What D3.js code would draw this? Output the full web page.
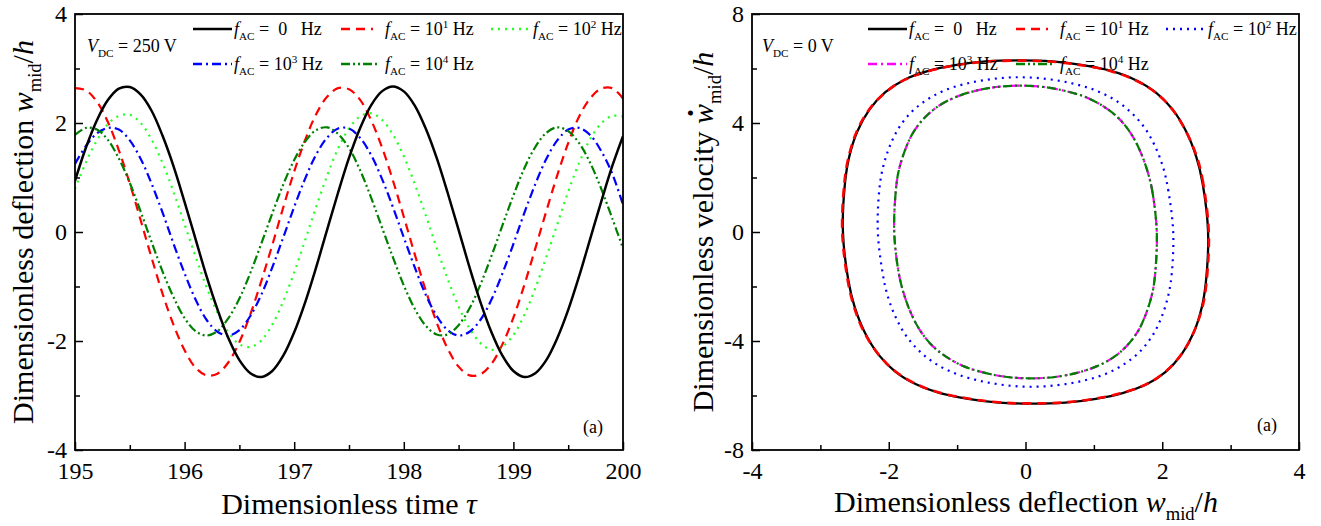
<!DOCTYPE html>
<html><head><meta charset="utf-8">
<script src="https://cdn.jsdelivr.net/npm/d3@7"></script>
<style>
body{margin:0;background:#fff}
svg{display:block}
text{font-family:"Liberation Serif","Times New Roman",serif;fill:#000}
</style>
</head><body>
<svg id="c" width="1321" height="526"></svg>
<script>
// ---------- data: left panel (time history, V_DC = 250 V) ----------
const tau = [195.0,195.1,195.2,195.3,195.4,195.5,195.6,195.7,195.8,195.9,196.0,196.1,196.2,196.3,196.4,196.5,196.6,196.7,196.8,196.9,197.0,197.1,197.2,197.3,197.4,197.5,197.6,197.7,197.8,197.9,198.0,198.1,198.2,198.3,198.4,198.5,198.6,198.7,198.8,198.9,199.0,199.1,199.2,199.3,199.4,199.5,199.6,199.7,199.8,199.9,200.0];
const wF0 = [0.94,1.55,2.05,2.42,2.63,2.66,2.52,2.22,1.76,1.20,0.55,-0.13,-0.81,-1.42,-1.95,-2.35,-2.59,-2.66,-2.55,-2.27,-1.84,-1.29,-0.65,0.04,0.72,1.36,1.90,2.32,2.58,2.67,2.58,2.32,1.90,1.36,0.72,0.04,-0.65,-1.29,-1.84,-2.27,-2.55,-2.66,-2.59,-2.35,-1.95,-1.43,-0.81,-0.13,0.55,1.20,1.76];
const wF1 = [2.64,2.60,2.39,2.02,1.50,0.89,0.21,-0.48,-1.14,-1.71,-2.17,-2.49,-2.63,-2.60,-2.39,-2.02,-1.51,-0.90,-0.24,0.45,1.11,1.69,2.16,2.48,2.64,2.62,2.43,2.06,1.56,0.95,0.28,-0.41,-1.07,-1.66,-2.14,-2.47,-2.63,-2.61,-2.42,-2.06,-1.57,-0.97,-0.30,0.38,1.04,1.63,2.12,2.45,2.63,2.64,2.45];
const wF2 = [0.79,1.28,1.68,1.98,2.13,2.15,2.00,1.69,1.26,0.73,0.14,-0.45,-1.01,-1.48,-1.84,-2.06,-2.11,-1.99,-1.70,-1.27,-0.74,-0.15,0.46,1.03,1.53,1.90,2.12,2.18,2.06,1.79,1.39,0.88,0.31,-0.29,-0.86,-1.37,-1.77,-2.04,-2.16,-2.10,-1.89,-1.52,-1.03,-0.46,0.14,0.74,1.27,1.70,1.99,2.13,2.12];
const wF3 = [1.25,1.58,1.81,1.91,1.88,1.68,1.34,0.88,0.35,-0.22,-0.76,-1.24,-1.61,-1.83,-1.90,-1.80,-1.54,-1.15,-0.65,-0.10,0.46,0.98,1.42,1.73,1.90,1.90,1.73,1.42,0.98,0.46,-0.10,-0.65,-1.15,-1.54,-1.80,-1.90,-1.83,-1.61,-1.24,-0.76,-0.22,0.35,0.88,1.34,1.68,1.88,1.91,1.78,1.49,1.08,0.50];
const wF4 = [1.78,1.91,1.88,1.69,1.35,0.90,0.37,-0.19,-0.73,-1.20,-1.58,-1.82,-1.90,-1.82,-1.58,-1.22,-0.75,-0.21,0.34,0.87,1.32,1.66,1.87,1.92,1.80,1.54,1.14,0.64,0.09,-0.46,-0.98,-1.41,-1.72,-1.88,-1.88,-1.71,-1.40,-0.96,-0.44,0.12,0.67,1.17,1.56,1.82,1.92,1.85,1.63,1.27,0.80,0.26,-0.30];

// ---------- data: right panel (phase portraits, V_DC = 0 V) ----------
const pF0x = [2.67,2.59,2.50,2.35,2.15,1.90,1.60,1.25,0.84,0.39,-0.09,-0.58,-1.03,-1.42,-1.77,-2.05,-2.28,-2.46,-2.58,-2.64,-2.67,-2.59,-2.50,-2.35,-2.15,-1.90,-1.60,-1.25,-0.84,-0.39,0.09,0.58,1.03,1.42,1.77,2.05,2.28,2.46,2.58,2.64];
const pF0v = [0,1.79,2.74,3.69,4.50,5.13,5.59,5.91,6.12,6.26,6.30,6.26,6.12,5.91,5.59,5.13,4.50,3.69,2.74,1.79,0,-1.79,-2.74,-3.69,-4.50,-5.13,-5.59,-5.91,-6.12,-6.26,-6.30,-6.26,-6.12,-5.91,-5.59,-5.13,-4.50,-3.69,-2.74,-1.79];
const pF1x = [2.68,2.60,2.51,2.35,2.15,1.90,1.60,1.25,0.84,0.39,-0.09,-0.58,-1.03,-1.42,-1.77,-2.05,-2.29,-2.47,-2.59,-2.65,-2.68,-2.60,-2.51,-2.36,-2.15,-1.90,-1.60,-1.25,-0.84,-0.39,0.09,0.58,1.03,1.42,1.77,2.05,2.28,2.46,2.59,2.65];
const pF1v = [0,1.78,2.73,3.68,4.49,5.12,5.58,5.90,6.11,6.25,6.29,6.25,6.11,5.90,5.58,5.12,4.49,3.68,2.73,1.78,0,-1.78,-2.73,-3.68,-4.49,-5.12,-5.58,-5.90,-6.11,-6.25,-6.29,-6.25,-6.11,-5.90,-5.58,-5.12,-4.49,-3.68,-2.73,-1.78];
const pF2x = [2.16,2.09,2.02,1.90,1.74,1.53,1.29,1.00,0.67,0.30,-0.09,-0.47,-0.84,-1.16,-1.43,-1.66,-1.85,-1.99,-2.09,-2.14,-2.16,-2.09,-2.02,-1.90,-1.74,-1.53,-1.29,-1.00,-0.67,-0.30,0.09,0.47,0.84,1.16,1.43,1.66,1.85,1.99,2.09,2.14];
const pF2v = [0,1.50,2.31,3.12,3.83,4.42,4.87,5.22,5.46,5.62,5.68,5.62,5.46,5.22,4.87,4.42,3.83,3.12,2.31,1.50,0,-1.50,-2.31,-3.12,-3.83,-4.42,-4.87,-5.22,-5.46,-5.62,-5.68,-5.62,-5.46,-5.22,-4.87,-4.42,-3.83,-3.12,-2.31,-1.50];
const pF3x = [1.92,1.86,1.79,1.68,1.54,1.36,1.14,0.89,0.59,0.27,-0.08,-0.43,-0.75,-1.03,-1.28,-1.48,-1.65,-1.77,-1.86,-1.90,-1.92,-1.86,-1.79,-1.68,-1.54,-1.36,-1.14,-0.89,-0.59,-0.27,0.08,0.43,0.75,1.03,1.28,1.48,1.65,1.77,1.86,1.90];
const pF3v = [0,1.42,2.18,2.95,3.62,4.18,4.61,4.94,5.17,5.32,5.37,5.32,5.17,4.94,4.61,4.18,3.62,2.95,2.18,1.42,0,-1.42,-2.18,-2.95,-3.62,-4.18,-4.61,-4.94,-5.17,-5.32,-5.37,-5.32,-5.17,-4.94,-4.61,-4.18,-3.62,-2.95,-2.18,-1.42];
const pF4x = [1.92,1.86,1.79,1.68,1.54,1.36,1.14,0.89,0.59,0.27,-0.08,-0.43,-0.75,-1.03,-1.28,-1.48,-1.65,-1.77,-1.86,-1.90,-1.92,-1.86,-1.79,-1.68,-1.54,-1.36,-1.14,-0.89,-0.59,-0.27,0.08,0.43,0.75,1.03,1.28,1.48,1.65,1.77,1.86,1.90];
const pF4v = [0,1.42,2.18,2.95,3.62,4.18,4.61,4.94,5.17,5.32,5.37,5.32,5.17,4.94,4.61,4.18,3.62,2.95,2.18,1.42,0,-1.42,-2.18,-2.95,-3.62,-4.18,-4.61,-4.94,-5.17,-5.32,-5.37,-5.32,-5.17,-4.94,-4.61,-4.18,-3.62,-2.95,-2.18,-1.42];

// ---------- ticks and labels ----------
const leftXTicks = [195,196,197,198,199,200];
const leftXMinor = [195.5,196.5,197.5,198.5,199.5];
const leftYTicks = [-4,-2,0,2,4];
const leftYMinor = [-3,-1,1,3];
const rightXTicks = [-4,-2,0,2,4];
const rightXMinor = [-3,-1,1,3];
const rightYTicks = [-8,-4,0,4,8];
const rightYMinor = [-6,-2,2,6];
const freqExp = ["0","1","2","3","4"];

// ---------- drawing ----------
const svg = d3.select('#c');
const FONT = '"Liberation Serif","Times New Roman",serif';

function rich(sel, parts, size){
  let shift = 0;
  parts.forEach(p=>{
    const ts = sel.append('tspan').text(p.t);
    let target = 0, fs = size;
    if(p.s==='sub'){ target = 0.25*size; fs = 0.62*size; }
    if(p.s==='sup'){ target = -0.38*size; fs = 0.62*size; }
    ts.attr('font-size', fs).attr('dy', target - shift);
    shift = target;
    if(p.i) ts.attr('font-style','italic');
  });
}

function axes(g, x, y, xMaj, xMin, yMaj, yMin){
  const [x0,x1] = x.range(), [y0,y1] = y.range();
  const style = a => { a.select('.domain').remove(); a.attr('font-family',FONT).attr('font-size',24);
    a.selectAll('line').attr('stroke','#000').attr('stroke-width',1.5); a.selectAll('text').attr('fill','#000'); };
  g.append('g').attr('transform',`translate(0,${y0})`)
    .call(d3.axisBottom(x).tickValues(xMaj).tickSize(-8).tickPadding(12).tickFormat(d=>String(d))).call(style);
  g.append('g').attr('transform',`translate(0,${y0})`)
    .call(d3.axisBottom(x).tickValues(xMin).tickSize(-5).tickFormat('')).call(style);
  g.append('g').attr('transform',`translate(${x0},0)`)
    .call(d3.axisLeft(y).tickValues(yMaj).tickSize(-8).tickPadding(8).tickFormat(d=>String(d))).call(style);
  g.append('g').attr('transform',`translate(${x0},0)`)
    .call(d3.axisLeft(y).tickValues(yMin).tickSize(-5).tickFormat('')).call(style);
  g.append('rect').attr('x',x0).attr('y',y1).attr('width',x1-x0).attr('height',y0-y1)
    .attr('fill','none').attr('stroke','#000').attr('stroke-width',1.8);
}

const DASH = {solid:null, dash:'9,6', dot:'2,5', dashdot:'9,4,2,4', dashdotdot:'9,3,2,3,2,3'};

// ----- left panel -----
const xL = d3.scaleLinear().domain([195,200]).range([75,623]);
const yL = d3.scaleLinear().domain([-4,4]).range([450,14]);
const gL = svg.append('g');
svg.append('clipPath').attr('id','clipL').append('rect').attr('x',75).attr('y',14).attr('width',548).attr('height',436);
svg.append('clipPath').attr('id','clipR').append('rect').attr('x',752).attr('y',14).attr('width',547).attr('height',436);

const leftSeries = [
  {v:wF0, color:'#000000', dash:'solid', w:2.5},
  {v:wF1, color:'#ff0000', dash:'dash', w:2.2},
  {v:wF2, color:'#22ff22', dash:'dot', w:2.2},
  {v:wF3, color:'#0000ff', dash:'dashdot', w:2.2},
  {v:wF4, color:'#008000', dash:'dashdotdot', w:2.2}
];
const lineL = d3.line().x(d=>xL(d[0])).y(d=>yL(d[1])).curve(d3.curveCatmullRom.alpha(0.5));
const cL = gL.append('g').attr('clip-path','url(#clipL)');
[1,2,3,4,0].forEach(i=>{
  const s = leftSeries[i];
  cL.append('path').datum(tau.map((t,k)=>[t,s.v[k]])).attr('d',lineL)
    .attr('fill','none').attr('stroke',s.color).attr('stroke-width',s.w)
    .attr('stroke-dasharray',DASH[s.dash]);
});
axes(gL, xL, yL, leftXTicks, leftXMinor, leftYTicks, leftYMinor);

// ----- right panel -----
const xR = d3.scaleLinear().domain([-4,4]).range([752,1299]);
const yR = d3.scaleLinear().domain([-8,8]).range([450,14]);
const gR = svg.append('g');
const rightSeries = [
  {x:pF0x, v:pF0v, color:'#000000', dash:'solid', w:2.3},
  {x:pF1x, v:pF1v, color:'#ff0000', dash:'dash', w:2.6},
  {x:pF2x, v:pF2v, color:'#0000ff', dash:'dot', w:2.2},
  {x:pF3x, v:pF3v, color:'#ff00ff', dash:'dashdot', w:2.2},
  {x:pF4x, v:pF4v, color:'#008000', dash:'dashdotdot', w:2.2}
];
const lineR = d3.line().x(d=>xR(d[0])).y(d=>yR(d[1])).curve(d3.curveCatmullRomClosed.alpha(0.5));
const cR = gR.append('g').attr('clip-path','url(#clipR)');
rightSeries.forEach(s=>{
  cR.append('path').datum(s.x.map((xx,k)=>[xx,s.v[k]])).attr('d',lineR)
    .attr('fill','none').attr('stroke',s.color).attr('stroke-width',s.w)
    .attr('stroke-dasharray',DASH[s.dash]);
});
axes(gR, xR, yR, rightXTicks, rightXMinor, rightYTicks, rightYMinor);

// ----- legends -----
function legendItem(g, s, idx, lx0, lx1, ly, tx, ty){
  g.append('line').attr('x1',lx0).attr('x2',lx1).attr('y1',ly).attr('y2',ly)
    .attr('stroke',s.color).attr('stroke-width',s.dash==='solid'?2.5:2.4).attr('stroke-dasharray',DASH[s.dash]);
  const t = g.append('text').attr('x',tx).attr('y',ty).attr('font-size',18).style('white-space','pre');
  const e = freqExp[idx];
  if(e==='0') rich(t,[{t:'f',i:1},{t:'AC',s:'sub'},{t:' =  0   Hz'}],18);
  else rich(t,[{t:'f',i:1},{t:'AC',s:'sub'},{t:' = 10'},{t:e,s:'sup'},{t:' Hz'}],18);
}
function legend(series, ox, vdc){
  const g = svg.append('g');
  const t = g.append('text').attr('x',ox+12).attr('y',52).attr('font-size',18).style('white-space','pre');
  rich(t,[{t:'V',i:1},{t:'DC',s:'sub'},{t:' = '+vdc+' V'}],18);
  legendItem(g, series[0], 0, ox+118, ox+157, 29, ox+159, 35);
  legendItem(g, series[1], 1, ox+266, ox+298, 29, ox+310, 35);
  legendItem(g, series[2], 2, ox+416, ox+455, 29, ox+458, 35);
  legendItem(g, series[3], 3, ox+118, ox+157, 64, ox+159, 70);
  legendItem(g, series[4], 4, ox+266, ox+305, 64, ox+310, 70);
}
legend(leftSeries, 75, '250');
legend(rightSeries, 750, '0');

// (a) labels
svg.append('text').attr('x',583).attr('y',433).attr('font-size',18).text('(a)');
svg.append('text').attr('x',1257).attr('y',431).attr('font-size',18).text('(a)');

// axis titles
const tL = svg.append('text').attr('x',349).attr('y',514).attr('text-anchor','middle').attr('font-size',30);
rich(tL,[{t:'Dimensionless time '},{t:'τ',i:1}],30);
const tR = svg.append('text').attr('x',1026).attr('y',512).attr('text-anchor','middle').attr('font-size',30);
rich(tR,[{t:'Dimensionless deflection '},{t:'w',i:1},{t:'mid',s:'sub'},{t:'/'},{t:'h',i:1}],30);
const yTL = svg.append('text').attr('transform','translate(33,232) rotate(-90)').attr('text-anchor','middle').attr('font-size',30);
rich(yTL,[{t:'Dimensionless deflection '},{t:'w',i:1},{t:'mid',s:'sub'},{t:'/'},{t:'h',i:1}],30);
const gTR = svg.append('g').attr('transform','translate(713,232) rotate(-90)');
const yTR = gTR.append('text').attr('x',0).attr('y',0).attr('text-anchor','middle').attr('font-size',30);
const prefix = 'Dimensionless velocity ';
rich(yTR,[{t:prefix},{t:'w',i:1},{t:'mid',s:'sub'},{t:'/'},{t:'h',i:1}],30);
// dot over w (time derivative)
const wi = prefix.length;
const p0 = yTR.node().getStartPositionOfChar(wi), p1 = yTR.node().getEndPositionOfChar(wi);
gTR.append('text').attr('x',(p0.x+p1.x)/2+1).attr('y',-2).attr('text-anchor','middle')
  .attr('font-size',34).attr('font-weight','bold').text('\u02D9');
</script>
</body></html>
